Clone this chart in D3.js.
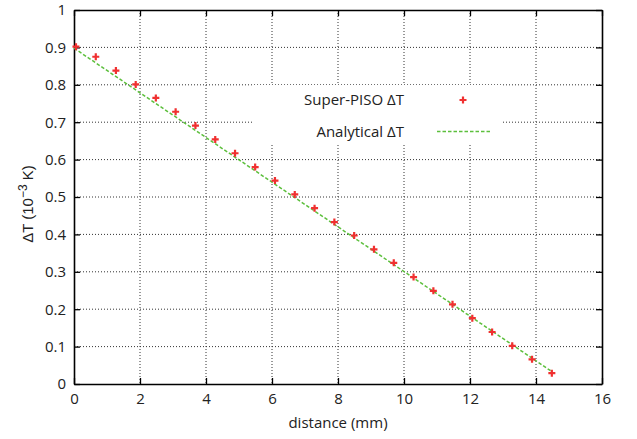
<!DOCTYPE html>
<html>
<head>
<meta charset="utf-8">
<script src="https://cdn.jsdelivr.net/npm/d3@7"></script>
<style>
  body { margin: 0; background: #fff; }
  text { font-family: "Open Sans", "Noto Sans", sans-serif; }
</style>
</head>
<body>
<div id="chart_area"></div>
<script>
// Super-PISO samples
var pisoX = [0.06, 0.66, 1.27, 1.87, 2.48, 3.08, 3.68, 4.28, 4.88, 5.49, 6.09, 6.69, 7.29,
             7.89, 8.49, 9.09, 9.69, 10.29, 10.89, 11.47, 12.07, 12.67, 13.28, 13.88, 14.48];
var pisoY = [0.902, 0.875, 0.838, 0.801, 0.765, 0.728, 0.691, 0.654, 0.617, 0.580, 0.544, 0.507, 0.470,
             0.433, 0.397, 0.360, 0.324, 0.286, 0.249, 0.213, 0.176, 0.139, 0.102, 0.066, 0.029];
// analytical solution (straight line)
var analyticX = [0, 14.5];
var analyticY = [0.898, 0.032];

var xTicks = [0, 2, 4, 6, 8, 10, 12, 14, 16];
var yTicks = [0, 0.1, 0.2, 0.3, 0.4, 0.5, 0.6, 0.7, 0.8, 0.9, 1];
var legendLabels = ["Super-PISO \u0394T", "Analytical \u0394T"];

var W = 637, H = 439;
var margin = { top: 10, right: 35, bottom: 55, left: 74 },
    width = W - margin.left - margin.right,
    height = H - margin.top - margin.bottom;

var svg = d3.select("#chart_area")
    .append("svg")
    .attr("width", W)
    .attr("height", H)
    .append("g")
    .attr("transform", "translate(" + margin.left + "," + margin.top + ")");

var x = d3.scaleLinear().domain([0, 16]).range([0, width]);
var y = d3.scaleLinear().domain([0, 1]).range([height, 0]);

// grid
svg.append("g")
    .selectAll("line")
    .data(xTicks.slice(1, -1))
    .enter()
    .append("line")
    .attr("x1", function (d) { return x(d); })
    .attr("x2", function (d) { return x(d); })
    .attr("y1", 0)
    .attr("y2", height)
    .attr("stroke", "#333")
    .attr("stroke-width", 1)
    .attr("stroke-dasharray", "1,2");
svg.append("g")
    .selectAll("line")
    .data(yTicks.slice(1, -1))
    .enter()
    .append("line")
    .attr("x1", 0)
    .attr("x2", width)
    .attr("y1", function (d) { return y(d); })
    .attr("y2", function (d) { return y(d); })
    .attr("stroke", "#333")
    .attr("stroke-width", 1)
    .attr("stroke-dasharray", "1,2");

// legend box (covers grid)
svg.append("rect")
    .attr("x", 179)
    .attr("y", 75)
    .attr("width", 250)
    .attr("height", 60)
    .attr("fill", "#fff");

// axes with inward ticks, on all four sides
function fmt(d) { return d3.format("")(+d.toFixed(1)); }
svg.append("g")
    .attr("transform", "translate(0," + height + ")")
    .call(d3.axisBottom(x).tickValues(xTicks).tickSizeInner(-6).tickSizeOuter(0).tickPadding(9).tickFormat(fmt));
svg.append("g")
    .call(d3.axisTop(x).tickValues(xTicks).tickSizeInner(-6).tickSizeOuter(0).tickFormat(""));
svg.append("g")
    .call(d3.axisLeft(y).tickValues(yTicks).tickSizeInner(-6).tickSizeOuter(0).tickPadding(8).tickFormat(fmt));
svg.append("g")
    .attr("transform", "translate(" + width + ",0)")
    .call(d3.axisRight(y).tickValues(yTicks).tickSizeInner(-6).tickSizeOuter(0).tickFormat(""));

svg.selectAll(".domain").attr("stroke", "#000").attr("stroke-width", 1.6);
svg.selectAll(".tick line").attr("stroke", "#000").attr("stroke-width", 1.3);
svg.selectAll(".tick text")
    .style("font-family", "'Open Sans', sans-serif")
    .style("font-size", "15px")
    .attr("fill", "#222");

// axis titles
svg.append("text")
    .attr("x", width / 2)
    .attr("y", height + 44)
    .attr("text-anchor", "middle")
    .style("font-size", "15px")
    .attr("fill", "#222")
    .text("distance (mm)");

var yl = svg.append("text")
    .attr("transform", "translate(-41," + (height / 2 + 7) + ") rotate(-90)")
    .attr("text-anchor", "middle")
    .style("font-family", "'Liberation Sans', Arial, sans-serif")
    .style("font-size", "15px")
    .attr("fill", "#222");
yl.append("tspan").text("\u0394T (10");
yl.append("tspan").attr("dy", -6).style("font-size", "12px").text("\u22123");
yl.append("tspan").attr("dy", 6).text(" K)");

// analytical line
var line = d3.line()
    .x(function (d) { return x(d[0]); })
    .y(function (d) { return y(d[1]); });
svg.append("path")
    .datum(d3.zip(analyticX, analyticY))
    .attr("d", line)
    .attr("fill", "none")
    .attr("stroke", "#5cbf3c")
    .attr("stroke-width", 1.5)
    .attr("stroke-dasharray", "3.5,2");

// plus markers
var plus = "M-3.5,0H3.5M0,-3.5V3.5";
svg.selectAll("mypoint")
    .data(d3.zip(pisoX, pisoY))
    .enter()
    .append("path")
    .attr("transform", function (d) { return "translate(" + x(d[0]) + "," + y(d[1]) + ")"; })
    .attr("d", plus)
    .attr("stroke", "#f03030")
    .attr("stroke-width", 2.2);

// legend entries
svg.append("text")
    .attr("x", 330)
    .attr("y", 95)
    .attr("text-anchor", "end")
    .style("font-size", "15px")
    .attr("fill", "#222")
    .text(legendLabels[0]);
svg.append("path")
    .attr("transform", "translate(389,90)")
    .attr("d", plus)
    .attr("stroke", "#f03030")
    .attr("stroke-width", 2.2);
svg.append("text")
    .attr("x", 330)
    .attr("y", 127)
    .attr("text-anchor", "end")
    .style("font-size", "15px")
    .attr("fill", "#222")
    .text(legendLabels[1]);
svg.append("line")
    .attr("x1", 363)
    .attr("x2", 416)
    .attr("y1", 121.5)
    .attr("y2", 121.5)
    .attr("stroke", "#5cbf3c")
    .attr("stroke-width", 1.5)
    .attr("stroke-dasharray", "3.5,2");
</script>
</body>
</html>
